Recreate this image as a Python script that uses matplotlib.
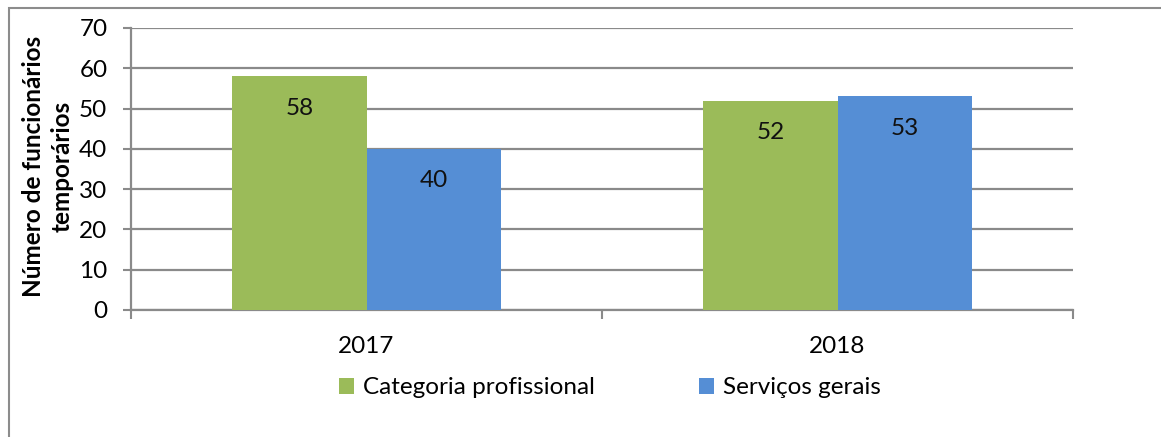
import matplotlib
matplotlib.use("Agg")
import matplotlib.pyplot as plt
from matplotlib.patches import Rectangle, Patch
from matplotlib.ticker import FixedLocator

categories = ["2017", "2018"]
series_names = ["Categoria profissional", "Serviços gerais"]
prof_values = [58, 52]
gerais_values = [40, 53]
yticks = [0, 10, 20, 30, 40, 50, 60, 70]

colors = ["#9BBB59", "#558ED5"]
grid_color = "#8A8A8A"
font = ["Lato", "DejaVu Sans"]
plt.rcParams["font.family"] = font
FS = 17.5

fig = plt.figure(figsize=(11.61, 4.37), dpi=100)
ax = fig.add_axes([131/1161, 1-310/437, (1073-131)/1161, (310-28)/437])

x = list(range(len(categories)))
w = 0.285
b1 = ax.bar([i - w/2 for i in x], prof_values, width=w, color=colors[0], zorder=3)
b2 = ax.bar([i + w/2 for i in x], gerais_values, width=w, color=colors[1], zorder=3)

for bars in (b1, b2):
    for r in bars:
        ax.annotate(f"{int(r.get_height())}", (r.get_x() + r.get_width()/2, r.get_height()),
                    xytext=(0, -23), textcoords="offset points", ha="center", va="center",
                    fontsize=FS, color="#111111", zorder=4)

ax.set_xlim(-0.5, 1.5)
ax.set_ylim(0, 70)
ax.set_yticks(yticks)
ax.yaxis.grid(True, color=grid_color, linewidth=1.6, zorder=0)
ax.set_axisbelow(True)

ax.set_xticks(x)
ax.set_xticklabels(categories, fontsize=FS)
ax.xaxis.set_minor_locator(FixedLocator([-0.5, 0.5, 1.5]))
ax.tick_params(axis="x", which="major", length=0, pad=19)
ax.tick_params(axis="x", which="minor", length=6.5, width=1.5, color=grid_color)
ax.tick_params(axis="y", length=6, width=1.5, color=grid_color, labelsize=FS, pad=11)

for s in ["top", "right"]:
    ax.spines[s].set_visible(False)
for s in ["left", "bottom"]:
    ax.spines[s].set_color(grid_color)
    ax.spines[s].set_linewidth(1.6)

fig.text(48/1161, 1-166/437, "Número de funcionários\ntemporários", rotation=90,
         ha="center", va="center", fontsize=FS, fontweight="bold", linespacing=1.32)

handles = [Patch(facecolor=c, edgecolor="none") for c in colors]
fig.legend(handles, series_names, loc="center", bbox_to_anchor=(610/1161, 1-388/437),
           ncol=2, frameon=False, fontsize=FS, handlelength=0.62, handleheight=0.62,
           handletextpad=0.35, columnspacing=4.3)

fig.patches.append(Rectangle((9/1161, -0.05), 1.2, 1-8/437+0.05, transform=fig.transFigure,
                             fill=False, edgecolor="#8C8C8C", linewidth=1.5))

fig.savefig("out.png", dpi=100)
